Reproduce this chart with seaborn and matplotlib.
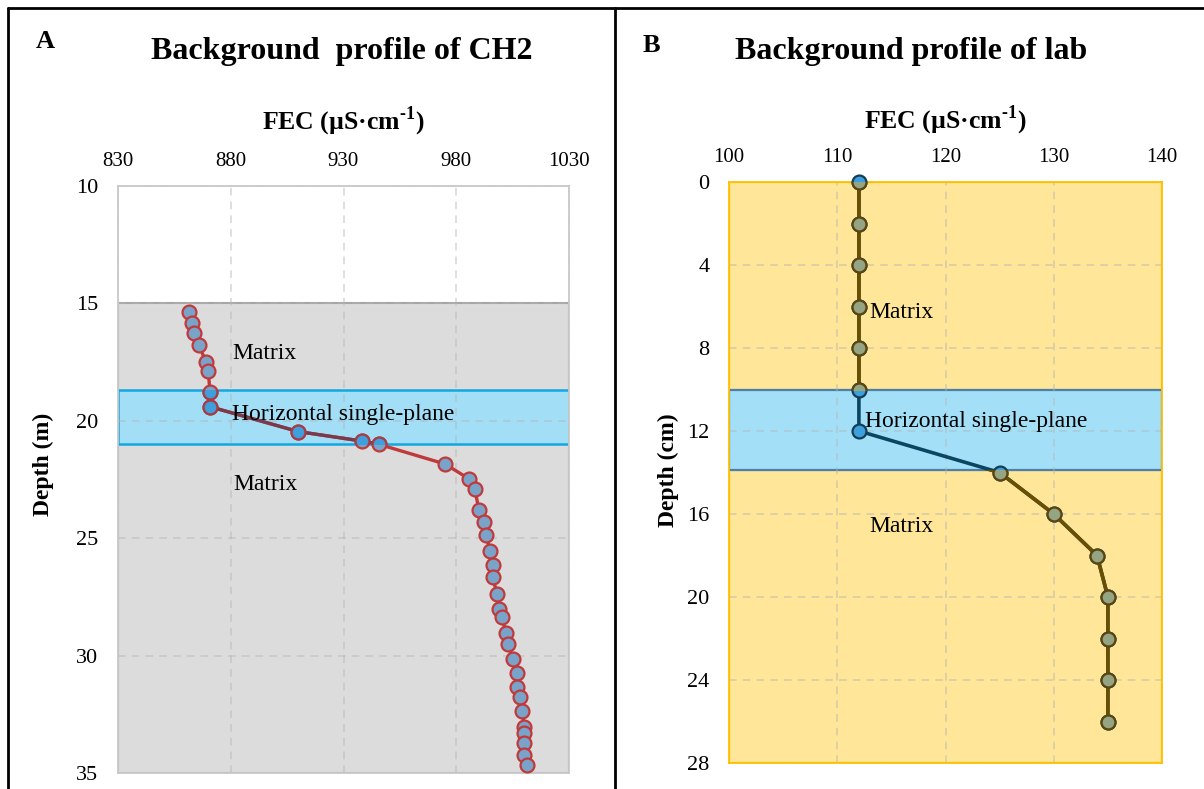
import matplotlib
matplotlib.use("Agg")
import matplotlib.pyplot as plt
from matplotlib.patches import Rectangle
from matplotlib.lines import Line2D
import seaborn as sns
import pandas as pd

# ---- CH2 borehole background profile ----
ch2_fec = [861.5, 862.8, 863.7, 865.9, 868.9, 870.0, 870.8, 870.8, 910.0, 938.0,
           945.7, 975.0, 985.8, 988.2, 990.1, 992.2, 993.1, 995.1, 996.1, 996.1,
           998.1, 999.1, 1000.1, 1002.1, 1003.1, 1005.2, 1007.1, 1007.1, 1008.1, 1009.2,
           1010.2, 1010.2, 1010.2, 1010.2, 1011.2]
ch2_depth = [15.37, 15.85, 16.27, 16.77, 17.48, 17.88, 18.76, 19.40, 20.46, 20.86,
             21.00, 21.84, 22.48, 22.92, 23.79, 24.33, 24.85, 25.55, 26.13, 26.65,
             27.37, 28.03, 28.34, 29.04, 29.52, 30.15, 30.73, 31.35, 31.78, 32.36,
             33.03, 33.31, 33.71, 34.23, 34.66]
ch2_matrix_zone = (15, 35)
ch2_plane_zone = (18.7, 21.0)
ch2_xticks = [830, 880, 930, 980, 1030]
ch2_yticks = [10, 15, 20, 25, 30, 35]

# ---- Laboratory background profile ----
lab_depth = [0, 2, 4, 6, 8, 10, 12, 14, 16, 18, 20, 22, 24, 26]
lab_fec = [112, 112, 112, 112, 112, 112, 112, 125, 130, 134, 135, 135, 135, 135]
lab_matrix_zones = [(0, 10), (13.9, 28)]
lab_plane_zone = (10, 13.9)
lab_xticks = [100, 110, 120, 130, 140]
lab_yticks = [0, 4, 8, 12, 16, 20, 24, 28]

sns.set_theme(style="white")
plt.rcParams["font.family"] = ["Liberation Serif", "DejaVu Serif"]
plt.rcParams["mathtext.fontset"] = "custom"
plt.rcParams["mathtext.rm"] = "Liberation Serif"
plt.rcParams["mathtext.bf"] = "Liberation Serif:bold"
for key in ("text.color", "axes.labelcolor", "xtick.color", "ytick.color"):
    plt.rcParams[key] = "black"

fig = plt.figure(figsize=(12.04, 7.89), dpi=100)
W, H = 1204, 789
FEC_LABEL = "FEC (µS·cm$^{\\mathbf{\u20101}}$)"


def px_axes(left, top, right, bottom):
    return fig.add_axes([left / W, 1 - bottom / H, (right - left) / W, (bottom - top) / H])


def profile(ax, fec, depth, line_c, face_c, edge_c, lw, ms, clip=None):
    n0 = len(ax.lines)
    df = pd.DataFrame({"fec": fec, "depth": depth})
    sns.lineplot(data=df, x="fec", y="depth", sort=False, estimator=None, ax=ax,
                 color=line_c, lw=lw, marker="o", markersize=ms,
                 markerfacecolor=face_c, markeredgecolor=edge_c, markeredgewidth=1.6,
                 zorder=3, legend=False)
    for ln in ax.lines[n0:]:
        if clip is None:
            ln.set_clip_on(False)
        else:
            x0, x1, y0, y1 = clip
            r = Rectangle((x0, y0), x1 - x0, y1 - y0, transform=ax.transData)
            ln.set_clip_path(r)


def style_axes(ax, xticks, yticks, ylabel, ylabel_xy, xlabelpad, spine_color):
    ax.set_xlim(xticks[0], xticks[-1])
    ax.set_ylim(yticks[-1], yticks[0])
    ax.set_xticks(xticks)
    ax.set_yticks(yticks)
    ax.xaxis.tick_top()
    ax.xaxis.set_label_position("top")
    ax.tick_params(axis="x", length=0, labelsize=15, pad=11)
    ax.tick_params(axis="y", length=0, labelsize=16, pad=14)
    ax.set_xlabel(FEC_LABEL, fontsize=18.5, fontweight="bold", labelpad=xlabelpad)
    ax.set_ylabel(ylabel, fontsize=17, fontweight="bold")
    ax.yaxis.set_label_coords(*ylabel_xy)
    ax.set_axisbelow(True)
    ax.grid(True, color="#b4b4b4", alpha=0.55, linestyle=(0, (5, 4)), lw=1.1)
    for s in ax.spines.values():
        s.set_color(spine_color)
        s.set_linewidth(1.3)


# ---------- Panel A ----------
axA = px_axes(118, 186, 569, 773)
axA.axhspan(*ch2_matrix_zone, facecolor="#dcdcdc", edgecolor="#a6a6a6", lw=1.5, zorder=0.2)
axA.axhspan(*ch2_plane_zone, facecolor="#a2dff7", edgecolor="#12a6e2", lw=1.8, zorder=0.3)
style_axes(axA, ch2_xticks, ch2_yticks, "Depth (m)", (-0.142, 0.526), 16, "#c8c8c8")
profile(axA, ch2_fec, ch2_depth, "#c0393b", "#7aa3c9", "#c0393b", 2.4, 10)
profile(axA, ch2_fec, ch2_depth, "#7a3a4e", "#3d9fdc", "#a83c46", 2.4, 10,
        clip=(ch2_xticks[0], ch2_xticks[-1], *ch2_plane_zone))
axA.text(880.6, 17.15, "Matrix", fontsize=17, va="center", ha="left", zorder=4)
axA.text(880.6, 19.75, "Horizontal single-plane", fontsize=17, va="center", ha="left", zorder=4)
axA.text(881.2, 22.73, "Matrix", fontsize=17, va="center", ha="left", zorder=4)

# ---------- Panel B ----------
axB = px_axes(729, 182, 1162, 763)
for z in lab_matrix_zones:
    axB.axhspan(*z, facecolor="#ffe699", edgecolor="#ffc000", lw=1.6, zorder=0.2)
axB.axhspan(*lab_plane_zone, facecolor="#a3e0f8", edgecolor="#4a7fae", lw=1.6, zorder=0.3)
style_axes(axB, lab_xticks, lab_yticks, "Depth (cm)", (-0.115, 0.504), 13.5, "#ffc000")
profile(axB, lab_fec, lab_depth, "#0c4562", "#3d9fdc", "#143c58", 2.6, 10)
for z in lab_matrix_zones:
    profile(axB, lab_fec, lab_depth, "#6a4f00", "#95a584", "#5a4610", 2.6, 10,
            clip=(lab_xticks[0], lab_xticks[-1], *z))
axB.text(113.0, 6.31, "Matrix", fontsize=17, va="center", ha="left", zorder=4)
axB.text(112.55, 11.52, "Horizontal single-plane", fontsize=17, va="center", ha="left", zorder=4)
axB.text(113.0, 16.6, "Matrix", fontsize=17, va="center", ha="left", zorder=4)

# ---------- titles and panel letters ----------
fig.text(341.5 / W, 1 - 52 / H, "Background  profile of CH2", fontsize=23,
         fontweight="bold", ha="center", va="center")
fig.text(911.5 / W, 1 - 52 / H, "Background profile of lab", fontsize=23,
         fontweight="bold", ha="center", va="center")
fig.text(45 / W, 1 - 42 / H, "A", fontsize=19, fontweight="bold", ha="center", va="center")
fig.text(651 / W, 1 - 46 / H, "B", fontsize=19, fontweight="bold", ha="center", va="center")

# ---------- outer frame ----------
for xs, ys in [((8, 8), (8, 789)), ((8, 1204), (8, 8)), ((615, 615), (8, 789))]:
    fig.add_artist(Line2D([x / W for x in xs], [1 - y / H for y in ys],
                          transform=fig.transFigure, color="black", lw=2))

fig.savefig("out.png", dpi=100)
